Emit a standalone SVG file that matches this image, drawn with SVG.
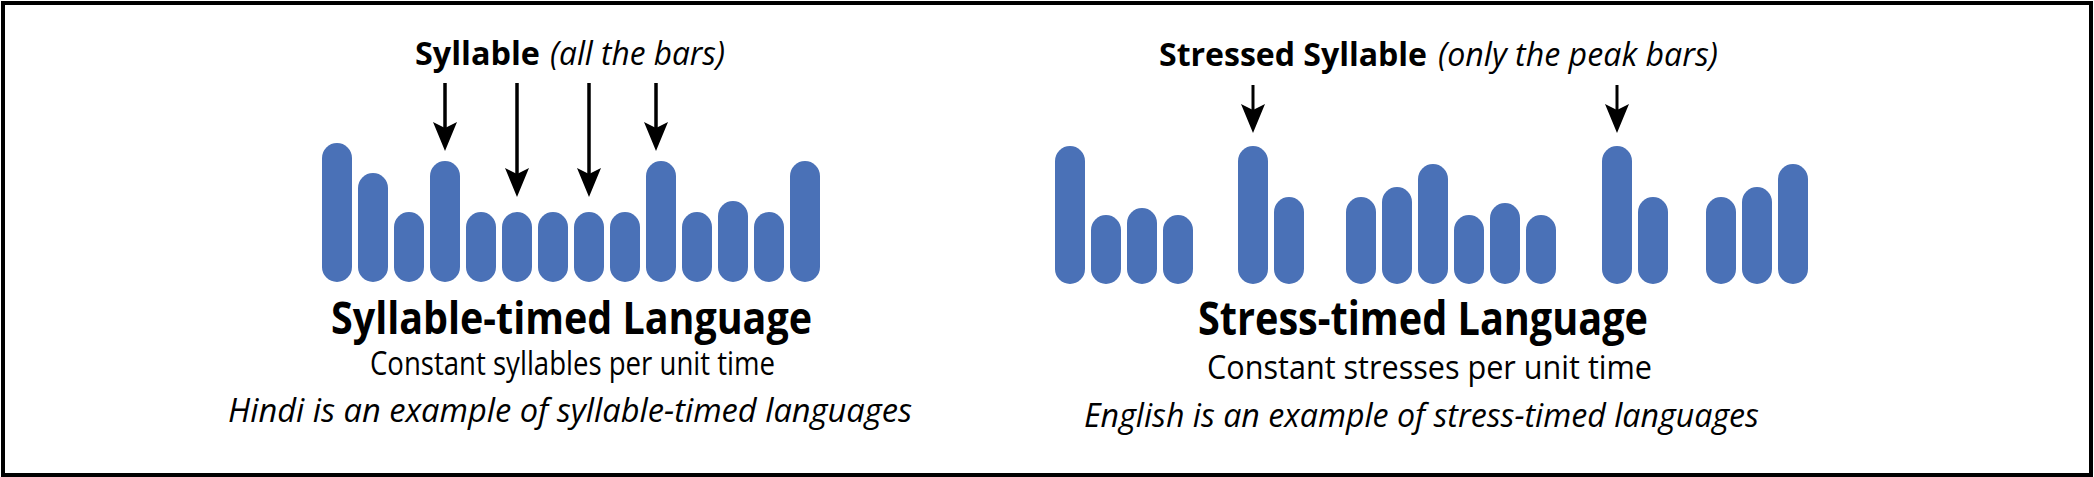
<svg xmlns="http://www.w3.org/2000/svg" width="2094" height="477" viewBox="0 0 2094 477">
<style>
.bar{fill:#4a71b7}
.t{font-family:"Open Sans","Noto Sans","Liberation Sans",sans-serif;fill:#000}
.b{font-weight:700}
.i{font-style:italic}
.arrow{stroke:#000;fill:none;marker-end:url(#head)}
</style>
<defs>
<marker id="head" markerUnits="userSpaceOnUse" markerWidth="30" markerHeight="24" viewBox="0 0 29 24" refX="6" refY="12" orient="auto">
<path d="M0,0 L29,12 L0,24 L6,12 Z" fill="#000"/>
</marker>
</defs>
<rect x="3" y="3" width="2088" height="472" fill="#fff" stroke="#000" stroke-width="4"/>

<g id="left-panel">
<g id="left-title">
<text class="t b" x="415" y="65" font-size="33" textLength="125" lengthAdjust="spacingAndGlyphs">Syllable</text>
<text class="t i" x="550" y="65" font-size="33" textLength="175" lengthAdjust="spacingAndGlyphs">(all the bars)</text>
</g>
<g id="left-bars">
<rect class="bar" x="322" y="143" width="30" height="139" rx="15"/>
<rect class="bar" x="358" y="173" width="30" height="109" rx="15"/>
<rect class="bar" x="394" y="212" width="30" height="70" rx="15"/>
<rect class="bar" x="430" y="161" width="30" height="121" rx="15"/>
<rect class="bar" x="466" y="212" width="30" height="70" rx="15"/>
<rect class="bar" x="502" y="212" width="30" height="70" rx="15"/>
<rect class="bar" x="538" y="212" width="30" height="70" rx="15"/>
<rect class="bar" x="574" y="212" width="30" height="70" rx="15"/>
<rect class="bar" x="610" y="212" width="30" height="70" rx="15"/>
<rect class="bar" x="646" y="161" width="30" height="121" rx="15"/>
<rect class="bar" x="682" y="212" width="30" height="70" rx="15"/>
<rect class="bar" x="718" y="201" width="30" height="81" rx="15"/>
<rect class="bar" x="754" y="212" width="30" height="70" rx="15"/>
<rect class="bar" x="790" y="161" width="30" height="121" rx="15"/>
</g>
<g id="left-caption">
<text class="t b" x="331" y="334" font-size="44" textLength="481" lengthAdjust="spacingAndGlyphs">Syllable-timed Language</text>
<text class="t" x="370" y="375" font-size="32" textLength="405" lengthAdjust="spacingAndGlyphs">Constant syllables per unit time</text>
<text class="t i" x="228" y="422" font-size="32" textLength="684" lengthAdjust="spacingAndGlyphs">Hindi is an example of syllable-timed languages</text>
</g>
</g>

<g id="right-panel">
<g id="right-title">
<text class="t b" x="1159" y="66" font-size="33" textLength="268" lengthAdjust="spacingAndGlyphs">Stressed Syllable</text>
<text class="t i" x="1438" y="66" font-size="33" textLength="280" lengthAdjust="spacingAndGlyphs">(only the peak bars)</text>
</g>
<g id="right-bars">
<rect class="bar" x="1055" y="146" width="30" height="138" rx="15"/>
<rect class="bar" x="1091" y="215" width="30" height="69" rx="15"/>
<rect class="bar" x="1127" y="208" width="30" height="76" rx="15"/>
<rect class="bar" x="1163" y="215" width="30" height="69" rx="15"/>
<rect class="bar" x="1238" y="146" width="30" height="138" rx="15"/>
<rect class="bar" x="1274" y="197" width="30" height="87" rx="15"/>
<rect class="bar" x="1346" y="197" width="30" height="87" rx="15"/>
<rect class="bar" x="1382" y="187" width="30" height="97" rx="15"/>
<rect class="bar" x="1418" y="164" width="30" height="120" rx="15"/>
<rect class="bar" x="1454" y="215" width="30" height="69" rx="15"/>
<rect class="bar" x="1490" y="203" width="30" height="81" rx="15"/>
<rect class="bar" x="1526" y="215" width="30" height="69" rx="15"/>
<rect class="bar" x="1602" y="146" width="30" height="138" rx="15"/>
<rect class="bar" x="1638" y="197" width="30" height="87" rx="15"/>
<rect class="bar" x="1706" y="197" width="30" height="87" rx="15"/>
<rect class="bar" x="1742" y="187" width="30" height="97" rx="15"/>
<rect class="bar" x="1778" y="164" width="30" height="120" rx="15"/>
</g>
<g id="right-caption">
<text class="t b" x="1198" y="335" font-size="46" textLength="450" lengthAdjust="spacingAndGlyphs">Stress-timed Language</text>
<text class="t" x="1207" y="379" font-size="33" textLength="445" lengthAdjust="spacingAndGlyphs">Constant stresses per unit time</text>
<text class="t i" x="1084" y="427" font-size="33" textLength="675" lengthAdjust="spacingAndGlyphs">English is an example of stress-timed languages</text>
</g>
</g>

<g id="connectors">
<path class="arrow" stroke-width="3.5" d="M445,83 V128"/>
<path class="arrow" stroke-width="3.5" d="M517,83 V174"/>
<path class="arrow" stroke-width="3.5" d="M589,83 V174"/>
<path class="arrow" stroke-width="3.5" d="M656,83 V128"/>
<path class="arrow" stroke-width="3" d="M1253,85 V110"/>
<path class="arrow" stroke-width="3" d="M1617,85 V110"/>
</g>
</svg>
